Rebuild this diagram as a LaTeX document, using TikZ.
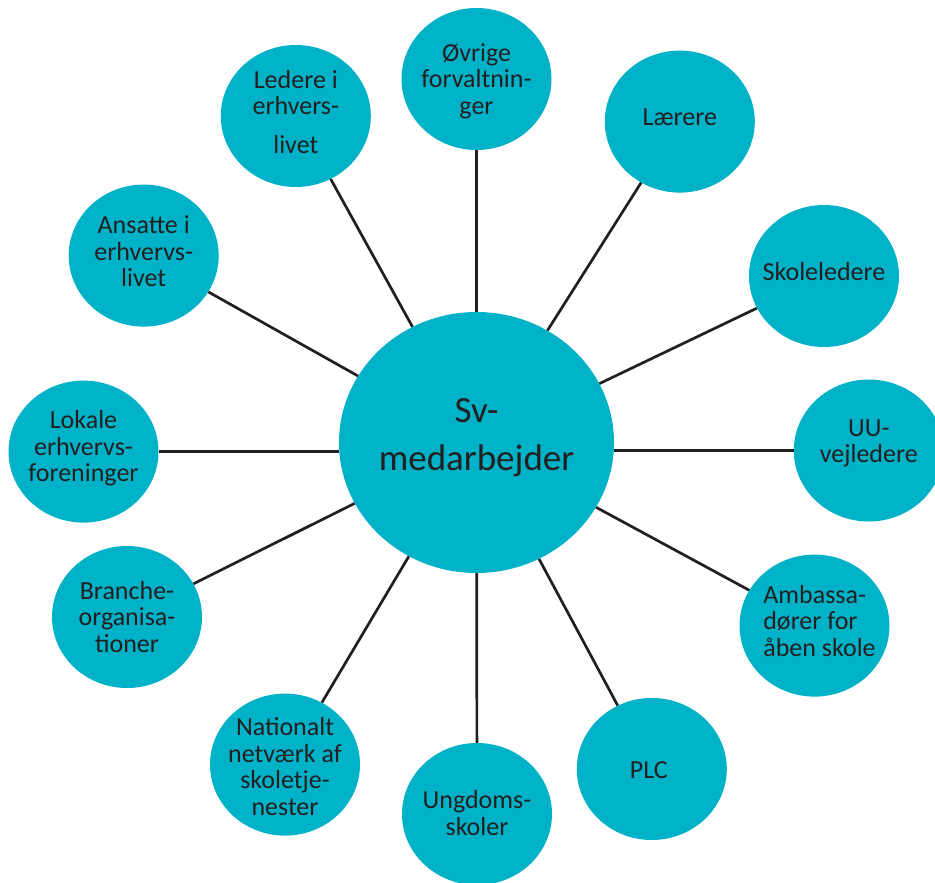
\documentclass[tikz,border=0pt]{standalone}
\usepackage{fontspec}
\setmainfont{Carlito}
\usepackage{tikz}
\usetikzlibrary{shapes.geometric}
\definecolor{svteal}{RGB}{0,178,199}
\definecolor{svdark}{RGB}{35,31,32}

\begin{document}
\begin{tikzpicture}[x=1pt,y=-1pt,
        hub/.style={ellipse,fill=svteal,minimum width=275pt,minimum height=261pt,inner sep=0pt},
        member/.style={ellipse,fill=svteal,minimum width=150pt,minimum height=142pt,inner sep=0pt},
        tag/.style={align=center,text=svdark,font=\fontsize{26}{26.5}\selectfont},
        spoke/.style={draw=svdark,line width=2.7pt}]
        \clip(0,0) rectangle (935,883);
        \node[hub,label={[tag,font=\fontsize{37}{48}\selectfont,yshift=5pt]center:{Sv-\\medarbejder}}] (hub) at (476.5,442.5) {};
        \node[member,label={[tag,yshift=-2pt]center:{Øvrige\\forvaltnin-\\ger}}] (ovrige) at (476.5,79) {};
        \node[member,label={[tag,yshift=4pt]center:{Lærere}}] (laerere) at (679.8,121.6) {};
        \node[member,label={[tag,yshift=4pt]center:{Skoleledere}}] (skoleledere) at (824,276) {};
        \node[member,label={[tag,yshift=7pt]center:{UU-\\vejledere}}] (uu) at (868.8,450.5) {};
        \node[member,label={[tag,align=left,xshift=5pt,yshift=5pt]center:{Ambassa-\\dører for\\åben skole}}] (ambassade) at (814.5,625.6) {};
        \node[member,label={[tag,xshift=-3pt,yshift=-1pt]center:{PLC}}] (plc) at (651.8,769) {};
        \node[member,label={[tag,yshift=1pt]center:{Ungdoms-\\skoler}}] (ungdom) at (477,814) {};
        \node[member,label={[tag,yshift=-2pt]center:{Nationalt\\netværk af\\skoletje-\\nester}}] (netvaerk) at (285,764.6) {};
        \node[member,label={[tag,yshift=0pt]center:{Branche-\\organisa-\\tioner}}] (branche) at (127,617) {};
        \node[member,label={[tag,yshift=3pt]center:{Lokale\\erhvervs-\\foreninger}}] (lokale) at (83.5,451.6) {};
        \node[member,label={[tag,yshift=4pt]center:{Ansatte i\\erhvervs-\\livet}}] (ansatte) at (143.7,255.6) {};
        \node[member,label={[tag,yshift=4pt]center:{Ledere i\\erhvers-\\[12pt]livet}}] (ledere) at (295.8,116) {};
        \draw[spoke] (hub) -- (ovrige);
        \draw[spoke] (hub) -- (laerere);
        \draw[spoke] (hub) -- (skoleledere);
        \draw[spoke] (uu -| hub.east) -- (uu);
        \draw[spoke] (hub) -- (ambassade);
        \draw[spoke] (hub) -- (plc);
        \draw[spoke] (hub) -- (ungdom);
        \draw[spoke] (hub) -- (netvaerk);
        \draw[spoke] (hub) -- (branche);
        \draw[spoke] (lokale -| hub.west) -- (lokale);
        \draw[spoke] (hub) -- (ansatte);
        \draw[spoke] (hub) -- (ledere);
    \end{tikzpicture}
\end{document}
